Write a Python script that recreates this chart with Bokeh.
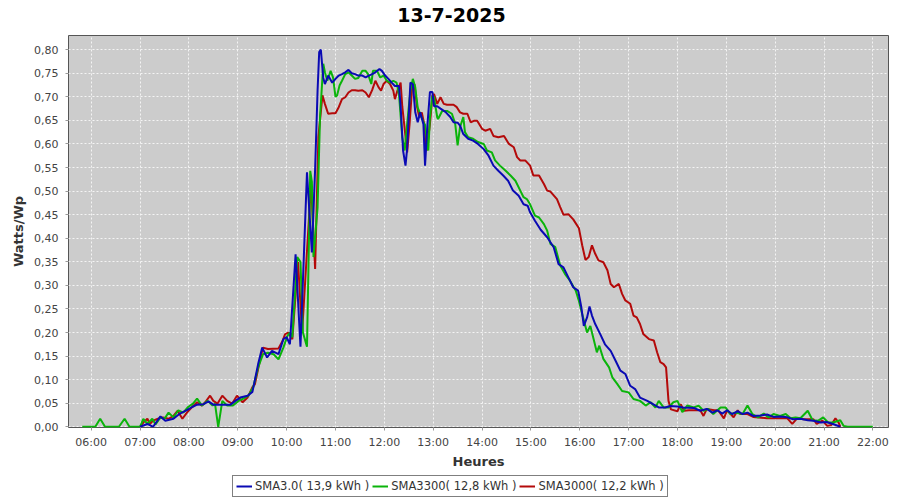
from bokeh.plotting import figure
from bokeh.layouts import column
from bokeh.models import (Legend, LegendItem, FixedTicker, CustomJSTickFormatter,
                          Range1d, ColumnDataSource, Label)
from bokeh.embed import file_html
from bokeh.resources import INLINE

TITLE = "13-7-2025"
Y_LABEL = "Watts/Wp"
X_LABEL = "Heures"

x_ticks = [6, 7, 8, 9, 10, 11, 12, 13, 14, 15, 16, 17, 18, 19, 20, 21, 22]
x_tick_labels = ["06:00", "07:00", "08:00", "09:00", "10:00", "11:00", "12:00", "13:00",
                 "14:00", "15:00", "16:00", "17:00", "18:00", "19:00", "20:00", "21:00", "22:00"]
y_ticks = [0.00, 0.05, 0.10, 0.15, 0.20, 0.25, 0.30, 0.35, 0.40,
           0.45, 0.50, 0.55, 0.60, 0.65, 0.70, 0.75, 0.80]

series_names = ["SMA3.0( 13,9 kWh )", "SMA3300( 12,8 kWh )", "SMA3000( 12,2 kWh )"]
series_colors = ["#0a0ab4", "#0ab40a", "#b40a0a"]

# SMA3.0 (blue)
blue_t = ["07:00", "07:09", "07:16", "07:25", "07:31", "07:41", "07:49", "07:58", "08:04", "08:10",
          "08:18", "08:24", "08:30", "08:51", "08:57", "09:03", "09:12", "09:18", "09:25", "09:30",
          "09:36", "09:42", "09:50", "09:56", "10:00", "10:04", "10:11", "10:17", "10:25", "10:31",
          "10:35", "10:38", "10:40", "10:42", "10:45", "10:47", "10:51", "10:56", "11:00", "11:04",
          "11:08", "11:12", "11:16", "11:20", "11:24", "11:28", "11:33", "11:37", "11:41", "11:45",
          "11:49", "11:54", "11:57", "12:01", "12:05", "12:09", "12:13", "12:18", "12:20", "12:23",
          "12:26", "12:28", "12:32", "12:35", "12:38", "12:41", "12:44", "12:48", "12:50", "12:53",
          "12:56", "12:59", "13:01", "13:05", "13:09", "13:15", "13:21", "13:25", "13:30", "13:33",
          "13:37", "13:43", "13:49", "13:55", "14:02", "14:08", "14:14", "14:20", "14:26", "14:32",
          "14:38", "14:45", "14:51", "14:56", "14:59", "15:05", "15:12", "15:20", "15:28", "15:34",
          "15:40", "15:46", "15:52", "15:58", "16:02", "16:05", "16:09", "16:12", "16:15", "16:19",
          "16:25", "16:31", "16:38", "16:44", "16:50", "16:56", "17:02", "17:08", "17:14", "17:23",
          "17:30", "17:37", "17:45", "17:51", "18:00", "18:07", "18:20", "18:28", "18:36", "18:43",
          "18:49", "18:55", "19:01", "19:07", "19:14", "19:20", "19:26", "19:33", "19:42", "19:50",
          "19:58", "20:06", "20:15", "20:22", "20:31", "20:40", "20:47", "20:56", "21:03", "21:11",
          "21:20"]
blue_v = [0.000, 0.006, 0.000, 0.022, 0.013, 0.017, 0.028, 0.036, 0.042, 0.047,
          0.048, 0.054, 0.047, 0.047, 0.055, 0.062, 0.066, 0.074, 0.133, 0.168,
          0.147, 0.161, 0.154, 0.186, 0.190, 0.175, 0.366, 0.170, 0.540, 0.370,
          0.547, 0.713, 0.795, 0.800, 0.740, 0.727, 0.745, 0.730, 0.738, 0.745,
          0.748, 0.752, 0.757, 0.750, 0.748, 0.745, 0.745, 0.741, 0.745, 0.748,
          0.752, 0.759, 0.755, 0.745, 0.738, 0.730, 0.723, 0.723, 0.680, 0.586,
          0.554, 0.590, 0.730, 0.727, 0.667, 0.646, 0.667, 0.642, 0.554, 0.642,
          0.710, 0.710, 0.680, 0.680, 0.675, 0.668, 0.657, 0.646, 0.645, 0.639,
          0.621, 0.611, 0.607, 0.600, 0.589, 0.575, 0.554, 0.543, 0.533, 0.522,
          0.501, 0.490, 0.472, 0.469, 0.455, 0.437, 0.418, 0.402, 0.381, 0.345,
          0.338, 0.317, 0.296, 0.289, 0.253, 0.214, 0.232, 0.255, 0.236, 0.218,
          0.197, 0.175, 0.161, 0.140, 0.119, 0.112, 0.087, 0.080, 0.062, 0.055,
          0.048, 0.041, 0.041, 0.044, 0.043, 0.041, 0.040, 0.034, 0.038, 0.030,
          0.035, 0.028, 0.035, 0.027, 0.033, 0.027, 0.030, 0.023, 0.024, 0.026,
          0.021, 0.022, 0.020, 0.016, 0.017, 0.014, 0.013, 0.009, 0.010, 0.006,
          0.000]

# SMA3300 (green)
green_t = ["05:49", "06:05", "06:11", "06:17", "06:34", "06:41", "06:47", "07:00", "07:04", "07:09",
           "07:15", "07:19", "07:25", "07:30", "07:35", "07:41", "07:47", "07:53", "07:59", "08:05",
           "08:10", "08:16", "08:23", "08:29", "08:32", "08:36", "08:41", "08:47", "08:54", "09:01",
           "09:07", "09:13", "09:19", "09:25", "09:31", "09:37", "09:44", "09:50", "09:56", "10:01",
           "10:04", "10:07", "10:13", "10:17", "10:20", "10:25", "10:29", "10:31", "10:33", "10:38",
           "10:41", "10:45", "10:47", "10:50", "10:54", "10:57", "11:00", "11:02", "11:05", "11:08",
           "11:12", "11:16", "11:20", "11:24", "11:28", "11:33", "11:37", "11:40", "11:44", "11:46",
           "11:51", "11:55", "11:59", "12:03", "12:07", "12:11", "12:15", "12:18", "12:22", "12:25",
           "12:28", "12:32", "12:35", "12:38", "12:41", "12:44", "12:48", "12:50", "12:54", "12:56",
           "12:59", "13:01", "13:05", "13:06", "13:11", "13:17", "13:23", "13:27", "13:30", "13:33",
           "13:37", "13:39", "13:43", "13:49", "13:55", "14:02", "14:06", "14:12", "14:16", "14:22",
           "14:29", "14:35", "14:41", "14:47", "14:51", "14:55", "14:59", "15:05", "15:10", "15:16",
           "15:20", "15:24", "15:30", "15:36", "15:42", "15:48", "15:55", "15:59", "16:03", "16:09",
           "16:13", "16:17", "16:21", "16:24", "16:29", "16:36", "16:40", "16:46", "16:52", "17:00",
           "17:06", "17:14", "17:21", "17:27", "17:33", "17:37", "17:43", "17:49", "17:55", "18:00",
           "18:06", "18:12", "18:20", "18:26", "18:32", "18:38", "18:44", "18:53", "18:59", "19:05",
           "19:12", "19:20", "19:26", "19:32", "19:39", "19:46", "19:52", "19:58", "20:06", "20:13",
           "20:19", "20:25", "20:31", "20:40", "20:46", "20:53", "20:59", "21:05", "21:11", "21:20",
           "21:24", "21:29", "22:00"]
green_v = [0.000, 0.000, 0.017, 0.000, 0.000, 0.017, 0.000, 0.000, 0.017, 0.006,
           0.017, 0.005, 0.020, 0.017, 0.030, 0.020, 0.035, 0.030, 0.042, 0.049,
           0.060, 0.045, 0.055, 0.045, 0.049, 0.000, 0.055, 0.045, 0.045, 0.055,
           0.060, 0.066, 0.084, 0.126, 0.154, 0.157, 0.154, 0.143, 0.168, 0.193,
           0.200, 0.190, 0.360, 0.350, 0.200, 0.170, 0.543, 0.520, 0.360, 0.465,
           0.656, 0.770, 0.752, 0.734, 0.755, 0.741, 0.700, 0.703, 0.724, 0.734,
           0.748, 0.752, 0.745, 0.738, 0.740, 0.755, 0.755, 0.748, 0.727, 0.755,
           0.755, 0.741, 0.745, 0.734, 0.730, 0.734, 0.730, 0.706, 0.614, 0.586,
           0.642, 0.713, 0.738, 0.720, 0.677, 0.664, 0.646, 0.640, 0.586, 0.656,
           0.702, 0.699, 0.656, 0.653, 0.670, 0.670, 0.664, 0.643, 0.597, 0.636,
           0.657, 0.625, 0.614, 0.611, 0.604, 0.600, 0.586, 0.582, 0.565, 0.554,
           0.543, 0.533, 0.522, 0.501, 0.487, 0.483, 0.472, 0.448, 0.444, 0.430,
           0.416, 0.388, 0.381, 0.342, 0.324, 0.310, 0.289, 0.267, 0.239, 0.200,
           0.214, 0.186, 0.158, 0.172, 0.144, 0.126, 0.105, 0.091, 0.076, 0.073,
           0.059, 0.055, 0.045, 0.052, 0.041, 0.055, 0.041, 0.041, 0.052, 0.055,
           0.031, 0.045, 0.041, 0.045, 0.034, 0.038, 0.027, 0.041, 0.041, 0.027,
           0.030, 0.027, 0.045, 0.027, 0.020, 0.028, 0.020, 0.027, 0.023, 0.027,
           0.018, 0.020, 0.018, 0.034, 0.014, 0.013, 0.020, 0.009, 0.009, 0.014,
           0.002, 0.000, 0.000]

# SMA3000 (red)
red_t = ["07:00", "07:04", "07:09", "07:12", "07:16", "07:22", "07:28", "07:35", "07:41", "07:46",
         "07:52", "07:58", "08:04", "08:10", "08:16", "08:20", "08:26", "08:30", "08:35", "08:41",
         "08:47", "08:53", "08:59", "09:06", "09:12", "09:18", "09:21", "09:28", "09:31", "09:37",
         "09:50", "09:55", "09:58", "10:02", "10:07", "10:14", "10:19", "10:30", "10:35", "10:39",
         "10:44", "10:47", "10:51", "10:56", "11:00", "11:04", "11:08", "11:12", "11:16", "11:20",
         "11:24", "11:28", "11:33", "11:37", "11:41", "11:45", "11:49", "11:53", "11:56", "11:59",
         "12:03", "12:07", "12:11", "12:13", "12:16", "12:20", "12:22", "12:25", "12:28", "12:31",
         "12:34", "12:37", "12:40", "12:43", "12:46", "12:49", "12:52", "12:56", "12:59", "13:01",
         "13:05", "13:09", "13:13", "13:17", "13:21", "13:25", "13:29", "13:33", "13:37", "13:42",
         "13:46", "13:50", "13:54", "14:00", "14:04", "14:10", "14:14", "14:20", "14:27", "14:33",
         "14:39", "14:43", "14:47", "14:53", "14:59", "15:03", "15:10", "15:16", "15:20", "15:24",
         "15:28", "15:32", "15:36", "15:40", "15:46", "15:52", "15:59", "16:03", "16:07", "16:11",
         "16:15", "16:19", "16:23", "16:29", "16:34", "16:38", "16:42", "16:48", "16:52", "16:56",
         "17:02", "17:06", "17:10", "17:14", "17:18", "17:25", "17:31", "17:35", "17:39", "17:43",
         "17:46", "17:49", "17:52", "18:00", "18:04", "18:08", "18:14", "18:21", "18:28", "18:32",
         "18:36", "18:45", "18:50", "18:57", "19:01", "19:09", "19:14", "19:17", "19:26", "19:33",
         "19:50", "20:06", "20:15", "20:21", "20:27", "20:35", "20:47", "20:51", "20:58", "21:04",
         "21:09", "21:14", "21:18", "21:20"]
red_v = [0.000, 0.009, 0.017, 0.006, 0.013, 0.017, 0.020, 0.017, 0.023, 0.034,
         0.017, 0.031, 0.042, 0.052, 0.045, 0.052, 0.066, 0.055, 0.049, 0.066,
         0.055, 0.049, 0.066, 0.052, 0.062, 0.084, 0.090, 0.147, 0.168, 0.165,
         0.166, 0.182, 0.196, 0.200, 0.186, 0.350, 0.200, 0.516, 0.335, 0.615,
         0.703, 0.685, 0.664, 0.665, 0.665, 0.678, 0.695, 0.699, 0.709, 0.714,
         0.714, 0.713, 0.714, 0.709, 0.699, 0.714, 0.734, 0.720, 0.713, 0.727,
         0.734, 0.727, 0.713, 0.695, 0.713, 0.730, 0.680, 0.632, 0.582, 0.642,
         0.717, 0.727, 0.681, 0.656, 0.667, 0.642, 0.586, 0.642, 0.702, 0.706,
         0.685, 0.699, 0.685, 0.683, 0.683, 0.683, 0.678, 0.667, 0.664, 0.664,
         0.646, 0.649, 0.649, 0.632, 0.628, 0.632, 0.617, 0.614, 0.617, 0.600,
         0.593, 0.572, 0.565, 0.565, 0.554, 0.533, 0.533, 0.515, 0.501, 0.499,
         0.491, 0.483, 0.466, 0.450, 0.451, 0.440, 0.421, 0.385, 0.354, 0.360,
         0.385, 0.367, 0.353, 0.349, 0.332, 0.303, 0.296, 0.303, 0.282, 0.268,
         0.261, 0.236, 0.232, 0.218, 0.197, 0.186, 0.183, 0.158, 0.137, 0.133,
         0.126, 0.055, 0.037, 0.033, 0.048, 0.034, 0.035, 0.035, 0.035, 0.023,
         0.038, 0.035, 0.035, 0.018, 0.035, 0.020, 0.035, 0.027, 0.027, 0.021,
         0.018, 0.018, 0.018, 0.006, 0.018, 0.016, 0.016, 0.006, 0.013, 0.002,
         0.004, 0.018, 0.009, 0.000]


def hours(labels):
    out = []
    for s in labels:
        h, m = s.split(":")
        out.append(int(h) + int(m) / 60.0)
    return out


FONT = "DejaVu Sans"


def strip(height):
    f = figure(width=900, height=height, output_backend="svg", toolbar_location=None,
               x_range=Range1d(0, 1), y_range=Range1d(0, 1),
               x_axis_location=None, y_axis_location=None,
               min_border_left=68, min_border_right=12, min_border_top=0, min_border_bottom=0,
               background_fill_color="white", border_fill_color="white")
    f.outline_line_color = None
    f.xgrid.visible = False
    f.ygrid.visible = False
    return f


# ---- title strip ----
top = strip(30)
top.add_layout(Label(x=0.467, y=0.53, text=TITLE, text_align="center", text_baseline="middle",
                     text_font=FONT, text_font_size="19px", text_font_style="bold",
                     text_color="black"))

# ---- main chart ----
p = figure(width=900, height=442, output_backend="svg", toolbar_location=None,
           x_range=Range1d(5.535, 22.32), y_range=Range1d(-0.0015, 0.83),
           min_border_left=68, min_border_right=12, min_border_top=5, min_border_bottom=45,
           background_fill_color="#cccccc", border_fill_color="white")

p.outline_line_color = "#555555"
p.outline_line_width = 1

p.xaxis.ticker = FixedTicker(ticks=x_ticks)
p.xaxis.major_label_overrides = dict(zip(x_ticks, x_tick_labels))
p.yaxis.ticker = FixedTicker(ticks=y_ticks)
p.yaxis.formatter = CustomJSTickFormatter(code="return tick.toFixed(2).replace('.', ',');")

for ax in (p.xaxis[0], p.yaxis[0]):
    ax.axis_line_color = None
    ax.major_tick_line_color = "#999999"
    ax.major_tick_in = 0
    ax.major_tick_out = 3
    ax.minor_tick_line_color = None
    ax.major_label_text_font = FONT
    ax.major_label_text_font_size = "11px"
    ax.major_label_text_color = "#444444"
    ax.axis_label_text_font = FONT
    ax.axis_label_text_font_size = "13px"
    ax.axis_label_text_font_style = "bold"
    ax.axis_label_text_color = "#333333"

p.xaxis.major_label_standoff = 5
p.yaxis.major_label_standoff = 7
p.xaxis.axis_label_standoff = 2
p.yaxis.axis_label_standoff = 5
p.xaxis.axis_label = X_LABEL
p.yaxis.axis_label = Y_LABEL

p.xgrid.ticker = FixedTicker(ticks=x_ticks)
p.ygrid.ticker = FixedTicker(ticks=y_ticks)
for g in (p.xgrid[0], p.ygrid[0]):
    g.grid_line_color = "#f4f4f4"
    g.grid_line_dash = "2 2"
    g.grid_line_width = 1

data = [(blue_t, blue_v), (green_t, green_v), (red_t, red_v)]
for idx in (2, 1, 0):
    t, v = data[idx]
    src = ColumnDataSource(dict(x=hours(t), y=v))
    p.line("x", "y", source=src, line_color=series_colors[idx], line_width=2)

# ---- legend strip ----
lg = strip(28)
legend_renderers = []
for idx in range(3):
    # kept outside the strip's visible range: only the legend swatch is drawn
    legend_renderers.append(lg.line(x=[5, 6], y=[5, 6], line_color=series_colors[idx], line_width=2))

legend = Legend(items=[LegendItem(label=series_names[i], renderers=[legend_renderers[i]]) for i in range(3)],
                orientation="horizontal", location=(164, 3))
legend.border_line_color = "black"
legend.border_line_width = 1
legend.background_fill_color = "white"
legend.background_fill_alpha = 1.0
legend.padding = 3
legend.margin = 0
legend.spacing = 3
legend.label_standoff = 3
legend.glyph_width = 16
legend.glyph_height = 12
legend.label_height = 12
legend.label_text_font = FONT
legend.label_text_font_size = "11.5px"
legend.label_text_color = "#333333"
legend.label_text_baseline = "middle"
lg.add_layout(legend, "center")

layout = column(top, p, lg, spacing=0)
open("out.html", "w").write(file_html(layout, INLINE))
